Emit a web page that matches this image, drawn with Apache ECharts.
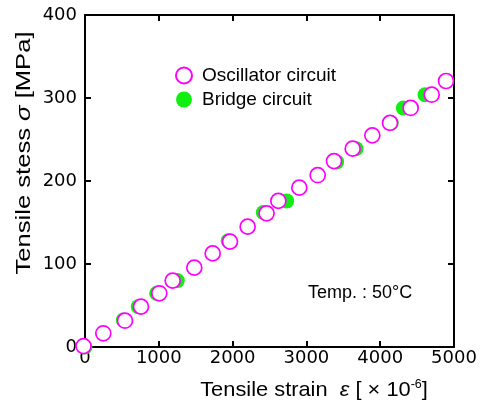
<!DOCTYPE html>
<html>
<head>
<meta charset="utf-8">
<style>html,body{margin:0;padding:0;background:#fff;}#c{width:481px;height:403px;}</style>
<script src="https://cdn.jsdelivr.net/npm/echarts@6/dist/echarts.min.js"></script>
</head>
<body>
<div id="c"></div>
<script>
const oscStrain = [-20, 248, 542, 759, 1007, 1188, 1481, 1730, 1965, 2204, 2461, 2620, 2904, 3153, 3374, 3627, 3893, 4133, 4413, 4698, 4892];
const oscStress = [1, 16.5, 31.7, 48.6, 64.7, 80, 95.6, 112.8, 127, 145, 161, 176, 192, 207, 224, 239, 255, 270, 288, 304, 320.5];
const brStrain = [0, 519, 722, 971, 1251, 1940, 2416, 2733, 3410, 3672, 4150, 4313, 4607];
const brStress = [0, 32.5, 48.6, 64.7, 80, 128, 162, 176, 223, 239, 270, 288, 304];
const xTicks = [0, 1000, 2000, 3000, 4000, 5000];
const yTicks = [0, 100, 200, 300, 400];

const TICKFONT = 'DejaVu Sans';
const FONT = 'Liberation Sans';
const chart = echarts.init(document.getElementById('c'));
const axisCommon = {
  axisLine: {show: true, onZero: false, lineStyle: {color: '#000', width: 2}},
  axisTick: {show: true, inside: true, length: 6, lineStyle: {color: '#000', width: 2}},
  splitLine: {show: false}
};
chart.setOption({
  animation: false,
  grid: {left: 85, right: 27, top: 15, bottom: 56},
  xAxis: [
    Object.assign({type: 'value', min: xTicks[0], max: xTicks[xTicks.length-1], interval: 1000, position: 'bottom',
      axisLabel: {color: '#000', fontFamily: TICKFONT, fontSize: 18, margin: 2, formatter: v => String(v)}}, axisCommon),
    Object.assign({type: 'value', min: xTicks[0], max: xTicks[xTicks.length-1], interval: 1000, position: 'top',
      axisLabel: {show: false}}, axisCommon)
  ],
  yAxis: [
    Object.assign({type: 'value', min: yTicks[0], max: yTicks[yTicks.length-1], interval: 100, position: 'left',
      axisLabel: {color: '#000', fontFamily: TICKFONT, fontSize: 18, margin: 8, formatter: v => String(v)}}, axisCommon),
    Object.assign({type: 'value', min: yTicks[0], max: yTicks[yTicks.length-1], interval: 100, position: 'right',
      axisLabel: {show: false}}, axisCommon)
  ],
  legend: {
    orient: 'vertical', left: 170, top: 61, itemWidth: 16, itemHeight: 16, itemGap: 5,
    textStyle: {color: '#000', fontFamily: FONT, fontSize: 19, lineHeight: 19, padding: [0,0,0,5]},
    data: [{name: 'Oscillator circuit', icon: 'circle'}, {name: 'Bridge circuit', icon: 'circle'}]
  },
  series: [
    {name: 'Bridge circuit', type: 'scatter', clip: false, symbol: 'circle', symbolSize: 15, z: 2,
      itemStyle: {color: '#11ee11', opacity: 1},
      data: brStrain.map((x, i) => [x, brStress[i]])},
    {name: 'Oscillator circuit', type: 'scatter', clip: false, symbol: 'circle', symbolSize: 15, z: 3,
      itemStyle: {color: '#fff', borderColor: '#ff00ff', borderWidth: 1.7, opacity: 1},
      data: oscStrain.map((x, i) => [x, oscStress[i]])}
  ],
  graphic: [
    {type: 'text', x: 24, y: 153, rotation: Math.PI/2, scaleX: 1.28,
      style: {text: 'Tensile stess {i|σ} [MPa]', fill: '#000', font: '20px "Liberation Sans"', align: 'center', verticalAlign: 'middle',
        rich: {i: {fontStyle: 'italic', fontFamily: FONT, fontSize: 20}}}},
    {type: 'text', x: 314, y: 390, scaleX: 1.04,
      style: {text: 'Tensile strain  {i|ε} [ × 10{s|-6}]', fill: '#000', font: '21px "Liberation Sans"', align: 'center', verticalAlign: 'middle',
        rich: {i: {fontStyle: 'italic', fontFamily: FONT, fontSize: 21}, s: {fontFamily: FONT, fontSize: 12, verticalAlign: 'top', padding: [0,0,10,0]}}}},
    {type: 'text', x: 308, y: 293,
      style: {text: 'Temp. : 50°C', fill: '#000', font: '18px "Liberation Sans"', align: 'left', verticalAlign: 'middle'}}
  ]
});
</script>
</body>
</html>
